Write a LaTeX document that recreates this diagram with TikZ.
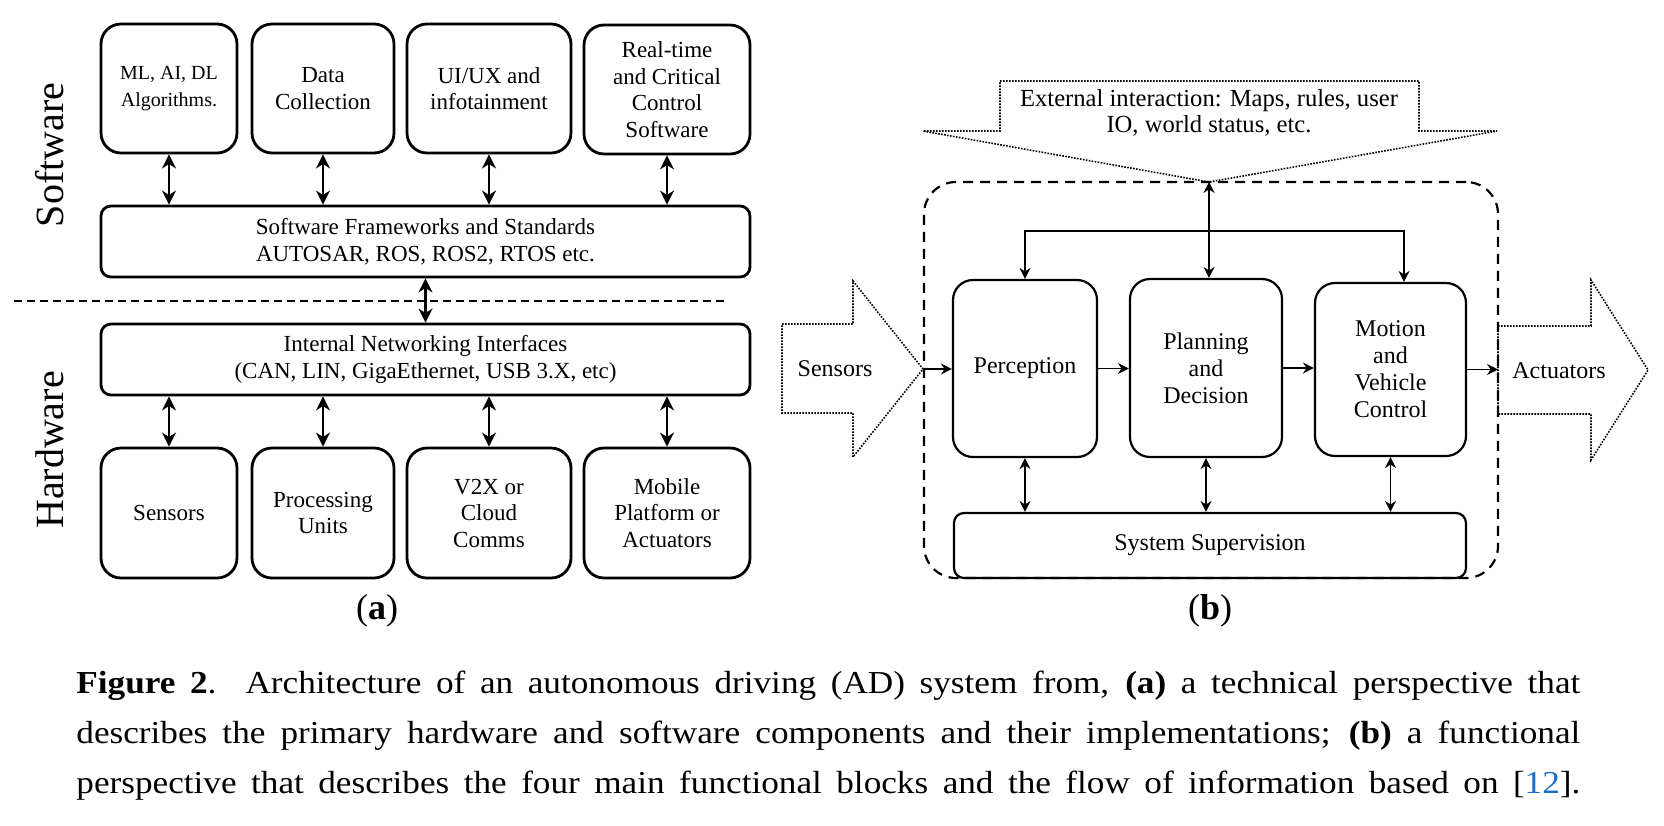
\documentclass[tikz,border=0pt]{standalone}
\usepackage{fontspec}
\setmainfont{Liberation Serif}
\newfontfamily\capfont{Liberation Serif}[FakeStretch=1.1]
\usetikzlibrary{arrows.meta}
\definecolor{refblue}{RGB}{25,110,200}
\begin{document}
\begin{tikzpicture}[x=0.5pt,y=-0.5pt,
  abox/.style={draw, line width=1.4pt, rounded corners=10pt, align=center, inner sep=2pt,
    font=\fontsize{11.5}{13.25}\selectfont},
  bbox/.style={draw, line width=1.1pt, rounded corners=10pt, align=center, inner sep=2pt,
    font=\fontsize{12}{13.5}\selectfont},
  aarr/.style={line width=1.3pt, {Stealth[length=7pt,width=7pt,inset=2.2pt]}-{Stealth[length=7pt,width=7pt,inset=2.2pt]}},
  barr/.style={line width=0.75pt, -{Stealth[length=5.5pt,width=5.5pt,inset=1.8pt]}},
  bbarr/.style={line width=0.75pt, {Stealth[length=5.5pt,width=5.5pt,inset=1.8pt]}-{Stealth[length=5.5pt,width=5.5pt,inset=1.8pt]}},
  sepline/.style={line width=0.8pt, dash pattern=on 4pt off 2.5pt},
  dotline/.style={line width=0.8pt, dash pattern=on 0.8pt off 0.7pt},
  contbox/.style={draw, line width=1.1pt, dash pattern=on 5pt off 3.5pt, rounded corners=16pt},
  lbl/.style={font=\fontsize{20}{20}\selectfont, rotate=90},
  sub/.style={font=\fontsize{18}{18}\selectfont}
]
\useasboundingbox (0,0) rectangle (1664,825);

% ---------- Panel (a) ----------
\node[abox, minimum width=68pt, minimum height=64.5pt, font=\fontsize{10}{13.25}\selectfont] (b1) at (169,88.5) {ML, AI, DL\\Algorithms.};
\node[abox, minimum width=71pt, minimum height=64.5pt] (b2) at (323,88.5) {Data\\Collection};
\node[abox, minimum width=82pt, minimum height=64.5pt] (b3) at (489,88.5) {UI/UX and\\infotainment};
\node[abox, minimum width=83pt, minimum height=64.5pt] (b4) at (667,89.5) {Real-time\\and Critical\\Control\\Software};

\node[abox, rounded corners=5pt, minimum width=324.5pt, minimum height=35.5pt] (fw) at (425.5,241.5)
  {Software Frameworks and Standards\\AUTOSAR, ROS, ROS2, RTOS etc.};
\node[abox, rounded corners=5pt, minimum width=324.5pt, minimum height=35.5pt] (net) at (425.5,359.5)
  {Internal Networking Interfaces\\(CAN, LIN, GigaEthernet, USB 3.X, etc)};

\node[abox, minimum width=68pt, minimum height=65pt] (s1) at (169,513) {Sensors};
\node[abox, minimum width=71pt, minimum height=65pt] (s2) at (323,513) {Processing\\Units};
\node[abox, minimum width=82pt, minimum height=65pt] (s3) at (489,513) {V2X or\\Cloud\\Comms};
\node[abox, minimum width=83pt, minimum height=65pt] (s4) at (667,513) {Mobile\\Platform or\\Actuators};

\foreach \b in {b1,b2,b3,b4} \draw[aarr] (\b.south) -- (\b.south |- fw.north);
\foreach \s in {s1,s2,s3,s4} \draw[aarr] (net.south -| \s.north) -- (\s.north);
\draw[aarr] (fw.south) -- (net.north);

\coordinate (dl) at (14,301);
\coordinate (dr) at (728,301);
\draw[sepline] (dl) -- (dr);

\node[lbl] (sw) at (50,155) {Software};
\node[lbl] (hw) at (50,450) {Hardware};
\node[sub] (la) at (377,611) {(\textbf{a})};

% ---------- Panel (b) ----------
\node[contbox, minimum width=287pt, minimum height=198pt] (cont) at (1211,380) {};

\coordinate (tip) at (1209,182);
\draw[dotline] (1000,81) -- (1419,81) -- (1419,131) -- (1497,131) -- (tip) -- (923,131) -- (1000,131) -- cycle;
\node[font=\fontsize{12.3}{13}\selectfont, align=center] (ext) at (1209,113)
  {External interaction: Maps, rules, user\\IO, world status, etc.};

\node[bbox, minimum width=72pt, minimum height=88.5pt] (per) at (1025,368.5) {Perception};
\node[bbox, minimum width=76pt, minimum height=89pt] (plan) at (1206,368) {Planning\\and\\Decision};
\node[bbox, minimum width=75.5pt, minimum height=86.5pt] (mot) at (1390.5,369.5) {Motion\\and\\Vehicle\\Control};
\node[bbox, rounded corners=5pt, minimum width=256pt, minimum height=32.5pt] (sup) at (1210,545.5) {System Supervision};

% Sensors arrow
\coordinate (stip) at (923,369);
\draw[dotline] (782,324) -- (853,324) -- (853,281) -- (stip) -- (853,457) -- (853,413) -- (782,413) -- cycle;
\node[font=\fontsize{12}{13.5}\selectfont] (sen) at (835,369) {Sensors};

% Actuators arrow
\coordinate (abody) at (1498,370);
\draw[dotline] (1498,326) -- (1591,326) -- (1591,280) -- (1648,370) -- (1591,460) -- (1591,414) -- (1498,414) -- cycle;
\node[font=\fontsize{12}{13.5}\selectfont] (act) at (1559,371) {Actuators};

\draw[barr] (stip) -- (stip -| per.west);
\draw[barr] (per.east) -- (per.east -| plan.west);
\draw[barr] (plan.east) -- (plan.east -| mot.west);
\draw[barr] (mot.east) -- (mot.east -| abody);

\draw[bbarr] (tip) -- (tip |- plan.north);
\coordinate (busr) at (1404,231);
\draw[bbarr] (per.north) |- (busr) -- (busr |- mot.north);

\draw[bbarr] (per.south) -- (per.south |- sup.north);
\draw[bbarr] (plan.south) -- (plan.south |- sup.north);
\draw[bbarr] (mot.south) -- (mot.south |- sup.north);

\node[sub] (lb) at (1210,611) {(\textbf{b})};

% ---------- Caption ----------
\node[anchor=base west, inner sep=0pt] (cap) at (76,693) {\parbox[t]{752pt}{\capfont\fontsize{16}{25}\selectfont\parfillskip=0pt\emergencystretch=20pt
\textbf{Figure 2}. Architecture of an autonomous driving (AD) system from, \textbf{(a)} a technical perspective that\linebreak
describes the primary hardware and software components and their implementations; \textbf{(b)} a functional\linebreak
perspective that describes the four main functional blocks and the flow of information based on [\textcolor{refblue}{12}].}};
\end{tikzpicture}
\end{document}
